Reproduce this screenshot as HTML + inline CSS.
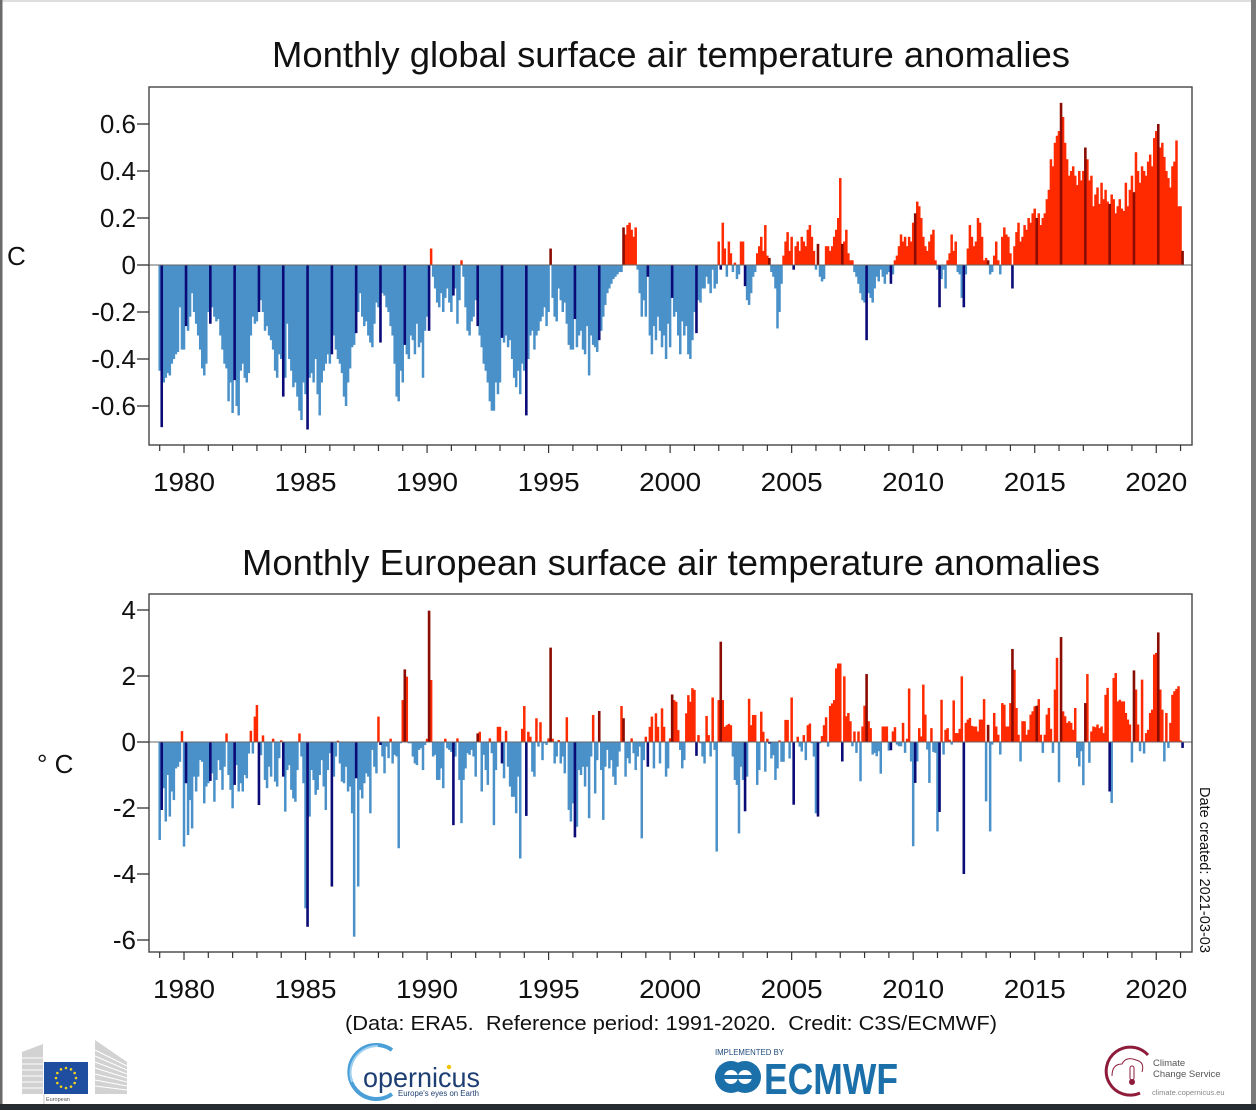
<!DOCTYPE html>
<html><head><meta charset="utf-8">
<style>html,body{margin:0;padding:0;background:#fff;overflow:hidden}svg{display:block}</style>
</head><body>
<svg id="s" width="1256" height="1110" viewBox="0 0 1256 1110" xmlns="http://www.w3.org/2000/svg" font-family="'Liberation Sans', Arial, sans-serif">
<rect width="1256" height="1110" fill="#fff"/>
<!-- frame -->
<rect x="0" y="0" width="1256" height="2" fill="#dedede"/>
<rect x="0" y="0" width="2.5" height="1104" fill="#6a6a6a"/>
<rect x="1251" y="0" width="5" height="1104" fill="#7a7a7a"/>
<rect x="0" y="1104" width="1256" height="6" fill="#272c31"/>

<!-- titles -->
<text x="272" y="67" font-size="36" textLength="798" lengthAdjust="spacingAndGlyphs" fill="#111">Monthly global surface air temperature anomalies</text>
<text x="242" y="575" font-size="36" textLength="858" lengthAdjust="spacingAndGlyphs" fill="#111">Monthly European surface air temperature anomalies</text>

<g id="g1"></g>
<g id="g2"></g>
<g id="axes"></g>

<text x="7" y="265" font-size="26" fill="#111">C</text>
<text x="37" y="773" font-size="26" fill="#111">° C</text>

<text transform="translate(1200,787) rotate(90)" x="0" y="0" font-size="14.5" textLength="166" lengthAdjust="spacingAndGlyphs" fill="#111">Date created: 2021-03-03</text>

<text x="345" y="1030" font-size="20" textLength="652" lengthAdjust="spacingAndGlyphs" fill="#111" style="white-space:pre">(Data: ERA5.  Reference period: 1991-2020.  Credit: C3S/ECMWF)</text>

<!-- EU logo -->
<g>
  <polygon points="22,1052 43,1044 43,1094 22,1094" fill="#d2d2d2"/>
  <polygon points="95,1040 127,1062 127,1094 95,1094" fill="#d2d2d2"/>
  <g stroke="#ffffff" stroke-width="1">
    <line x1="22" y1="1058" x2="43" y2="1058"/><line x1="22" y1="1064" x2="43" y2="1064"/><line x1="22" y1="1070" x2="43" y2="1070"/><line x1="22" y1="1076" x2="43" y2="1076"/><line x1="22" y1="1082" x2="43" y2="1082"/><line x1="22" y1="1088" x2="43" y2="1088"/>
    <line x1="95" y1="1050" x2="127" y2="1066"/><line x1="95" y1="1056" x2="127" y2="1070"/><line x1="95" y1="1062" x2="127" y2="1074"/><line x1="95" y1="1068" x2="127" y2="1078"/><line x1="95" y1="1074" x2="127" y2="1082"/><line x1="95" y1="1080" x2="127" y2="1086"/><line x1="95" y1="1086" x2="127" y2="1090"/>
  </g>
  <rect x="44" y="1062" width="44" height="32" fill="#1f4ea1"/>
  <g fill="#f3d21b" id="stars"></g>
  <line x1="44" y1="1094" x2="44" y2="1104" stroke="#bbb" stroke-width="0.8"/>
  <text x="46" y="1101" font-size="5.5" fill="#555">European</text>
</g>

<!-- Copernicus -->
<g>
  <path d="M 392 1050 A 27 27 0 1 0 392 1094" fill="none" stroke="#4a9fd8" stroke-width="4"/>
  <path d="M 378 1046 A 27 27 0 0 0 352 1082" fill="none" stroke="#9fd0f0" stroke-width="2"/>
  <text x="363" y="1087" font-size="28" textLength="117" lengthAdjust="spacingAndGlyphs" fill="#1e3f73">opernicus</text>
  <circle cx="449" cy="1067" r="2.2" fill="#f2c200"/>
  <text x="398" y="1096" font-size="8" textLength="81" lengthAdjust="spacingAndGlyphs" fill="#1e3f73">Europe's eyes on Earth</text>
</g>

<!-- ECMWF -->
<g>
  <text x="715" y="1055" font-size="8" textLength="69" lengthAdjust="spacingAndGlyphs" fill="#1e4a7a">IMPLEMENTED BY</text>
  <circle cx="731" cy="1077" r="16" fill="#1b70aa"/>
  <circle cx="745" cy="1077" r="16" fill="#1b70aa"/>
  <rect x="715" y="1075" width="44" height="4" fill="#fff"/>
  <circle cx="731" cy="1077" r="7" fill="#fff"/>
  <circle cx="745" cy="1077" r="7" fill="#fff"/>
  <rect x="715" y="1075" width="44" height="4" fill="#1b70aa"/>
  <text x="764" y="1094" font-size="44" font-weight="bold" textLength="134" lengthAdjust="spacingAndGlyphs" fill="#1b70aa">ECMWF</text>
</g>

<!-- Climate Change Service -->
<g>
  <path d="M 1148 1055 A 24 24 0 1 0 1140 1093" fill="none" stroke="#8e1b3a" stroke-width="3"/>
  <path d="M 1112 1076 Q 1112 1064 1122 1064 Q 1126 1056 1136 1060 Q 1145 1062 1142 1072" fill="none" stroke="#8e1b3a" stroke-width="1"/>
  <rect x="1130" y="1066" width="4" height="14" rx="2" fill="none" stroke="#8e1b3a" stroke-width="1"/>
  <circle cx="1132" cy="1082" r="3" fill="#8e1b3a"/>
  <text x="1153" y="1066" font-size="9.5" fill="#555">Climate</text>
  <text x="1153" y="1077" font-size="9.5" fill="#555">Change Service</text>
  <text x="1152" y="1095" font-size="7.5" fill="#888">climate.copernicus.eu</text>
</g>
</svg>
<script>
(function(){
var NS="http://www.w3.org/2000/svg";
var G=[
-0.45,-0.69,-0.5,-0.48,-0.46,-0.47,-0.42,-0.4,-0.38,-0.37,-0.18,-0.36,
-0.36,-0.26,-0.28,-0.22,-0.12,-0.2,-0.25,-0.3,-0.36,-0.44,-0.47,-0.42,
-0.2,-0.25,-0.18,-0.22,-0.24,-0.23,-0.3,-0.36,-0.42,-0.44,-0.58,-0.5,
-0.63,-0.49,-0.6,-0.64,-0.45,-0.42,-0.48,-0.5,-0.46,-0.3,-0.22,-0.25,
-0.24,-0.2,-0.15,-0.2,-0.28,-0.26,-0.3,-0.32,-0.36,-0.45,-0.48,-0.38,
-0.4,-0.56,-0.48,-0.25,-0.4,-0.45,-0.52,-0.5,-0.56,-0.62,-0.66,-0.5,
-0.55,-0.70,-0.48,-0.46,-0.5,-0.4,-0.55,-0.64,-0.5,-0.45,-0.42,-0.38,
-0.42,-0.38,-0.3,-0.36,-0.4,-0.42,-0.46,-0.56,-0.6,-0.5,-0.44,-0.35,
-0.34,-0.29,-0.2,-0.12,-0.22,-0.26,-0.24,-0.3,-0.33,-0.35,-0.25,-0.16,
-0.18,-0.33,-0.12,-0.13,-0.18,-0.2,-0.26,-0.3,-0.42,-0.56,-0.58,-0.45,
-0.5,-0.34,-0.38,-0.4,-0.3,-0.32,-0.38,-0.25,-0.35,-0.33,-0.48,-0.28,
-0.22,-0.28,0.07,-0.05,-0.1,-0.16,-0.18,-0.12,-0.2,-0.14,-0.1,-0.16,
-0.2,-0.13,-0.1,-0.25,-0.15,0.02,-0.05,-0.18,-0.28,-0.3,-0.24,-0.22,
-0.15,-0.26,-0.3,-0.35,-0.42,-0.45,-0.5,-0.58,-0.62,-0.62,-0.5,-0.55,
-0.5,-0.31,-0.33,-0.3,-0.35,-0.32,-0.4,-0.48,-0.52,-0.45,-0.55,-0.42,
-0.45,-0.64,-0.4,-0.3,-0.28,-0.36,-0.3,-0.28,-0.24,-0.22,-0.18,-0.26,
-0.2,0.07,-0.14,-0.22,-0.24,-0.1,-0.15,-0.2,-0.16,-0.25,-0.34,-0.36,
-0.36,-0.23,-0.35,-0.3,-0.28,-0.36,-0.38,-0.26,-0.47,-0.3,-0.34,-0.35,
-0.37,-0.32,-0.28,-0.22,-0.17,-0.12,-0.1,-0.08,-0.06,-0.05,-0.04,-0.03,
-0.03,0.16,0.13,0.17,0.18,0.15,0.12,0.16,-0.02,-0.12,-0.22,-0.15,
-0.22,-0.05,-0.3,-0.38,-0.26,-0.32,-0.22,-0.28,-0.35,-0.3,-0.4,-0.25,
-0.35,-0.14,-0.22,-0.2,-0.3,-0.38,-0.24,-0.3,-0.26,-0.38,-0.4,-0.32,
-0.2,-0.29,-0.15,-0.16,-0.1,-0.1,-0.05,-0.08,-0.12,-0.02,-0.1,-0.08,
0.1,-0.02,0.18,0.07,-0.05,0.1,0.05,-0.03,0.01,-0.06,-0.04,0.1,
0.1,-0.09,-0.15,-0.17,-0.12,-0.05,-0.03,0.05,0.08,0.12,0.06,0.17,
0.04,0.03,-0.03,-0.05,-0.1,-0.27,-0.2,-0.08,0.04,0.1,0.14,0.06,
0.12,-0.02,0.08,0.1,0.06,0.12,0.1,0.08,0.15,0.17,0.12,0.06,
-0.02,0.09,-0.05,-0.07,-0.06,0.08,0.08,0.06,0.08,0.12,0.15,0.2,
0.37,0.09,0.1,0.15,0.05,0.02,0.02,-0.03,-0.05,-0.08,-0.12,-0.15,
-0.16,-0.32,-0.12,-0.14,-0.16,-0.1,-0.05,-0.07,-0.02,-0.05,-0.08,-0.04,
-0.03,-0.08,-0.04,0.02,0.04,0.08,0.13,0.1,0.12,0.08,0.12,0.1,
0.18,0.22,0.27,0.25,0.2,0.12,0.08,0.06,0.1,0.13,0.15,0.02,
-0.02,-0.18,-0.06,-0.02,-0.1,0.02,0.05,0.13,0.06,0.1,-0.03,-0.04,
-0.14,-0.18,-0.04,0.07,0.17,0.12,0.08,0.1,0.2,0.18,0.12,0.02,
0.03,0.02,-0.04,-0.03,0.04,0.1,0.02,-0.04,0.12,0.16,0.13,0.12,
0.05,-0.10,0.08,0.14,0.18,0.1,0.12,0.17,0.15,0.2,0.18,0.22,
0.24,0.20,0.22,0.17,0.2,0.22,0.28,0.32,0.45,0.42,0.52,0.55,
0.57,0.69,0.63,0.52,0.45,0.38,0.4,0.42,0.38,0.34,0.4,0.36,
0.4,0.5,0.45,0.36,0.38,0.25,0.3,0.33,0.26,0.35,0.28,0.32,
0.27,0.26,0.3,0.28,0.22,0.25,0.28,0.24,0.23,0.35,0.25,0.32,
0.38,0.31,0.48,0.4,0.35,0.42,0.4,0.38,0.44,0.47,0.42,0.54,
0.57,0.60,0.5,0.52,0.46,0.4,0.37,0.33,0.42,0.44,0.53,0.25,
0.25,0.06];
var E=[
-2.97,-2.06,-1.4,-2.41,-1.0,-2.26,-1.5,-1.76,-0.8,-0.75,-0.6,0.33,
-3.17,-1.25,-2.82,-1.76,-2.62,-1.05,-1.5,-1.05,-0.55,-0.6,-1.86,-1.35,
-1.25,-1.18,-0.95,-1.81,-1.15,-0.55,-0.85,-1.45,-0.75,0.26,-1.0,-1.45,
-2.01,-1.3,-0.7,-1.5,-1.25,-1.5,-1.0,-1.1,-0.35,0.34,-0.35,0.77,
1.12,-1.91,-0.4,0.2,-1.15,-1.4,-0.75,-1.05,0.1,-1.2,-1.35,-0.49,
0.05,-1.05,-2.11,-0.85,-0.7,-1.45,-1.71,-1.81,-0.85,0.26,-0.44,-1.25,
-5.04,-5.6,-2.26,-0.85,-1.15,-1.6,-1.45,-1.0,-0.55,-1.35,-2.06,-0.85,
-0.34,-4.38,-1.05,-0.44,0.04,-0.65,-1.2,-1.25,-0.75,-1.5,-1.35,-2.16,
-5.9,-1.1,-4.38,-1.45,-1.71,-1.25,-0.95,-1.05,-2.16,-0.24,-0.75,-0.95,
0.77,-0.09,-0.44,-0.95,-0.14,-0.49,0.1,-0.65,-0.39,-0.44,-3.22,-0.04,
1.27,2.2,1.98,-0.04,-0.04,-0.44,-0.65,-0.7,-0.24,-0.19,-0.85,-0.09,
0.1,3.98,1.88,-0.44,-0.39,-1.15,-1.15,-0.8,-1.4,0.1,-0.19,-0.24,
-0.3,-2.52,-0.44,0.11,-1.15,-2.46,-1.15,-0.8,-0.34,-0.39,-0.24,-0.44,
-1.05,0.26,0.31,-1.5,-0.39,-0.85,-1.3,0.11,-0.34,-2.52,-0.85,0.46,
0.46,-0.65,-1.1,0.34,-0.75,-1.35,-1.66,-1.66,-2.16,-1.05,-3.53,0.4,
1.09,-2.24,0.31,0.16,-0.9,-1.05,0.72,-0.14,0.6,-0.55,-0.04,-0.09,
0.11,2.86,0.1,-0.65,-0.44,0.06,-0.65,-0.44,-0.95,0.75,-2.06,-2.41,
-1.86,-2.89,-2.57,-0.85,-1.0,-0.75,-1.35,-0.75,-2.31,-0.44,0.82,-1.56,
-0.55,0.94,-0.85,-2.36,-0.75,-0.24,-0.8,-0.55,-1.05,-1.3,-0.75,-0.29,
1.09,0.72,-1.05,-0.49,-0.65,0.11,-0.34,-0.85,-0.44,-0.14,-2.92,-0.55,
0.16,-0.75,0.46,0.77,-0.8,0.87,0.46,-0.65,1.02,0.46,-1.05,-0.8,
0.11,1.44,1.27,1.22,0.36,-0.24,-0.8,-0.55,0.87,1.42,1.22,1.63,
1.58,-0.42,0.21,-0.04,-0.44,-0.65,0.79,0.21,-0.44,1.35,-0.24,-3.32,
1.27,3.04,1.27,0.46,0.51,0.55,0.51,-0.44,-1.15,-1.3,-2.77,-0.75,
-1.15,-2.1,-1.05,1.31,0.51,0.82,0.82,-1.3,-0.85,0.92,0.31,-0.9,
0.1,-0.05,-0.5,-0.4,-1.15,-0.8,0.05,-0.6,-0.6,0.67,0.67,-0.5,
1.35,-1.9,0.01,0.16,-0.14,-0.29,0.21,-0.55,0.51,0.56,-0.04,-0.44,
-2.16,-2.26,-0.04,0.18,0.51,0.75,-0.14,1.09,1.17,1.27,2.23,2.38,
2.38,-0.59,1.99,0.78,0.88,0.63,-0.13,0.32,-0.33,0.32,-1.19,0.47,
1.1,2.06,0.63,0.42,-0.38,-0.33,-0.43,-0.28,-0.96,0.47,0.47,0.47,
-0.26,-0.25,0.32,0.45,-0.08,-0.13,-0.13,0.58,-0.33,0.1,1.62,-0.59,
-3.16,-1.24,-0.59,0.42,0.17,1.74,0.83,-0.23,-1.24,0.42,-0.3,-0.33,
-2.71,-2.12,1.28,-0.38,0.37,0.42,0.07,-0.08,1.26,0.27,0.27,0.4,
1.99,-4.0,0.58,0.68,0.73,0.49,0.47,0.47,0.32,0.68,0.68,1.3,
-1.8,0.52,-2.71,-0.08,0.88,0.47,0.22,-0.38,1.18,1.13,0.47,0.47,
1.18,2.82,2.19,1.03,0.22,-0.59,0.63,0.63,0.22,0.37,0.83,0.93,
1.08,1.1,1.3,0.22,-0.33,0.22,0.83,1.03,0.4,-0.33,1.59,2.55,
-1.22,3.18,0.93,0.78,0.58,0.63,0.58,0.37,1.03,-0.48,-0.74,-0.28,
-1.31,1.18,2.06,-0.63,0.32,0.47,0.45,0.53,0.42,0.47,0.27,1.43,
1.64,-1.5,-1.85,1.94,2.09,1.23,1.28,1.23,1.23,0.88,0.68,0.53,
-0.62,2.17,1.59,0.53,-0.28,1.89,-0.35,0.27,0.37,0.88,0.98,2.65,
2.7,3.32,1.59,0.98,-0.59,0.88,-0.18,0.58,1.43,1.54,1.61,1.69,
0.05,-0.18];

function el(tag,attrs,parent,txt){var e=document.createElementNS(NS,tag);for(var k in attrs)e.setAttribute(k,attrs[k]);if(txt!==undefined)e.textContent=txt;parent.appendChild(e);return e;}

function bars(id,data,y0,sc){
  var g=document.getElementById(id),dk=[];
  for(var m=0;m<data.length;m++){
    var v=data[m],cx=159.7+2.0255*m,h=Math.abs(v)*sc,y=v>=0?y0-h:y0;
    var dark=(m%12===1);
    var col=v>=0?(dark?'#8a0c02':'#ff2a00'):(dark?'#0b0b78':'#4a91c9');
    var w=dark?2.6:2.5;
    var a={x:(cx-w/2).toFixed(2),y:y.toFixed(2),width:w,height:Math.max(h,0.5).toFixed(2),fill:col};
    if(dark)dk.push(a);else el('rect',a,g);
  }
  for(var i=0;i<dk.length;i++)el('rect',dk[i],g);
}
bars('g1',G,265,235);
bars('g2',E,742,33);

var ax=document.getElementById('axes');
function frame(top,bot,y0,ticks,labBase){
  el('line',{x1:149,y1:y0,x2:1192,y2:y0,stroke:'#666','stroke-width':1},ax);
  el('rect',{x:149,y:top,width:1043,height:bot-top,fill:'none',stroke:'#444','stroke-width':1.4},ax);
  for(var i=0;i<ticks.length;i++){
    var t=ticks[i];
    el('line',{x1:137,y1:t[0],x2:149,y2:t[0],stroke:'#333','stroke-width':1.3},ax);
    el('text',{x:136,y:t[0]+9,'font-size':26,'text-anchor':'end',fill:'#111'},ax,t[1]);
  }
  for(var yr=1979;yr<=2021;yr++){
    var x=159.7+2.0255*12*(yr-1979);
    var big=(yr%5===0);
    el('line',{x1:x,y1:bot,x2:x,y2:bot+(big?8:6),stroke:'#333','stroke-width':1.2},ax);
    if(big&&yr>=1980&&yr<=2020){
      el('text',{x:x,y:labBase,'font-size':26,'text-anchor':'middle',textLength:62,lengthAdjust:'spacingAndGlyphs',fill:'#111'},ax,String(yr));
    }
  }
}
frame(87,445,265,[[124,'0.6'],[171,'0.4'],[218,'0.2'],[265,'0'],[312,'-0.2'],[359,'-0.4'],[406,'-0.6']],491);
frame(594,952,742,[[610,'4'],[676,'2'],[742,'0'],[808,'-2'],[874,'-4'],[940,'-6']],998);

var st=document.getElementById('stars');
for(var k=0;k<12;k++){var a=k*Math.PI/6;el('circle',{cx:(66+10*Math.cos(a)).toFixed(2),cy:(1078+10*Math.sin(a)).toFixed(2),r:1.3},st);}
})();
</script>
</body></html>
